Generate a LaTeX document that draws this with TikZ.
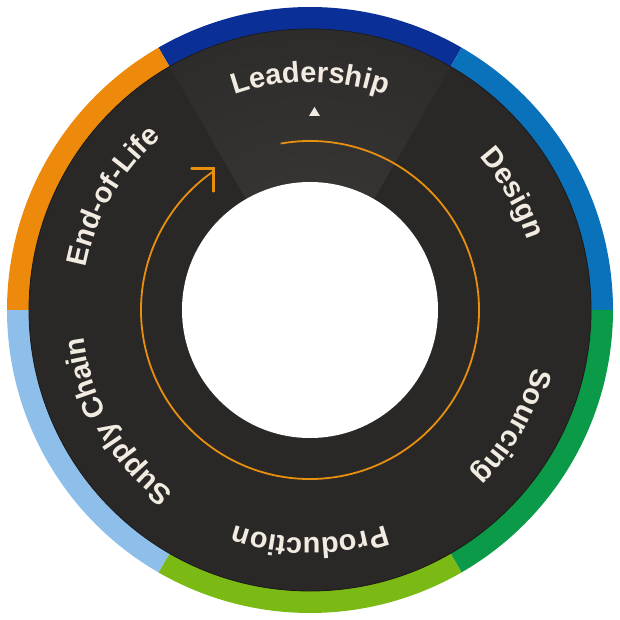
\documentclass[tikz,border=0pt]{standalone}
\usepackage{fontspec}
\setmainfont{Liberation Sans}
\usetikzlibrary{decorations.text}
\definecolor{ringdark}{HTML}{2A2827}
\definecolor{ringedge}{HTML}{1B1A19}
\definecolor{sA}{HTML}{363432}
\definecolor{sB}{HTML}{32302F}
\definecolor{sC}{HTML}{2E2C2B}
\definecolor{cLead}{HTML}{0A2F97}
\definecolor{cDesign}{HTML}{0A72BA}
\definecolor{cSource}{HTML}{0B9A48}
\definecolor{cProd}{HTML}{7BBA14}
\definecolor{cSupply}{HTML}{8DBFEA}
\definecolor{cEnd}{HTML}{EE8A0B}
\definecolor{labelc}{HTML}{F2EBE1}
\definecolor{cyclec}{HTML}{E8900E}
\pgfdeclareradialshading{sectorshade}{\pgfpoint{0bp}{0bp}}{color(0bp)=(sA); color(11.4bp)=(sA); color(18bp)=(sB); color(25bp)=(sC); color(50bp)=(sC)}
\newcommand\wheelfont{\fontsize{29}{34}\selectfont\bfseries}
\tikzset{
  band/.style={fill=#1},
  ringlabel/.style={decorate, decoration={text along path, text={|\wheelfont|#1}, text align=center, text color=labelc}},
  cycleline/.style={draw=cyclec, line width=1.8pt},
  cyclehead/.style={draw=cyclec, line width=2.2pt, line cap=round, line join=miter}
}
\begin{document}
\begin{tikzpicture}[x=1pt,y=1pt]
\useasboundingbox (-310,-310) rectangle (310,310);
% coloured outer bands
\foreach \a/\b/\c in {60/120/cLead, 0/60/cDesign, -60/0/cSource, -120/-60/cProd, -180/-120/cSupply, 120/180/cEnd}
  \fill[band=\c] (\a:303) arc[start angle=\a, end angle=\b, radius=303] -- (\b:279) arc[start angle=\b, end angle=\a, radius=279] -- cycle;
% dark ring
\fill[ringdark, draw=ringedge, line width=0.8pt] (0,0) circle[radius=281];
% highlighted leadership sector
\begin{scope}
  \clip (60:280.6) arc[start angle=60, end angle=120, radius=280.6] -- (120:128) arc[start angle=120, end angle=60, radius=128] -- cycle;
  \shade[shading=sectorshade] (0,0) circle[radius=281];
\end{scope}
% hole
\fill[white] (0,0) circle[radius=128];
% cycle arrow
\coordinate (cyclestart) at (100:169);
\coordinate (cycletip) at (-96.5,141.5);
\draw[cycleline] (cyclestart) arc[start angle=100, end angle=-235.5, radius=169];
\draw[cyclehead] ([shift={(-22,0)}]cycletip) -- (cycletip) -- ([shift={(0,-23)}]cycletip);
% marker
\fill[labelc] (-1,194) -- (10,194) -- (4.5,203) -- cycle;
% labels
\path[ringlabel=Leadership] (120:228) arc[start angle=120, end angle=60, radius=228];
\path[ringlabel=Design] (60:228) arc[start angle=60, end angle=0, radius=228];
\path[ringlabel=Sourcing] (0:230) arc[start angle=0, end angle=-60, radius=230];
\path[ringlabel=Production] (-60:228) arc[start angle=-60, end angle=-120, radius=228];
\path[ringlabel=Supply Chain] (-120:228) arc[start angle=-120, end angle=-180, radius=228];
\path[ringlabel=End-of-Life] (180:228) arc[start angle=180, end angle=120, radius=228];
\end{tikzpicture}
\end{document}
